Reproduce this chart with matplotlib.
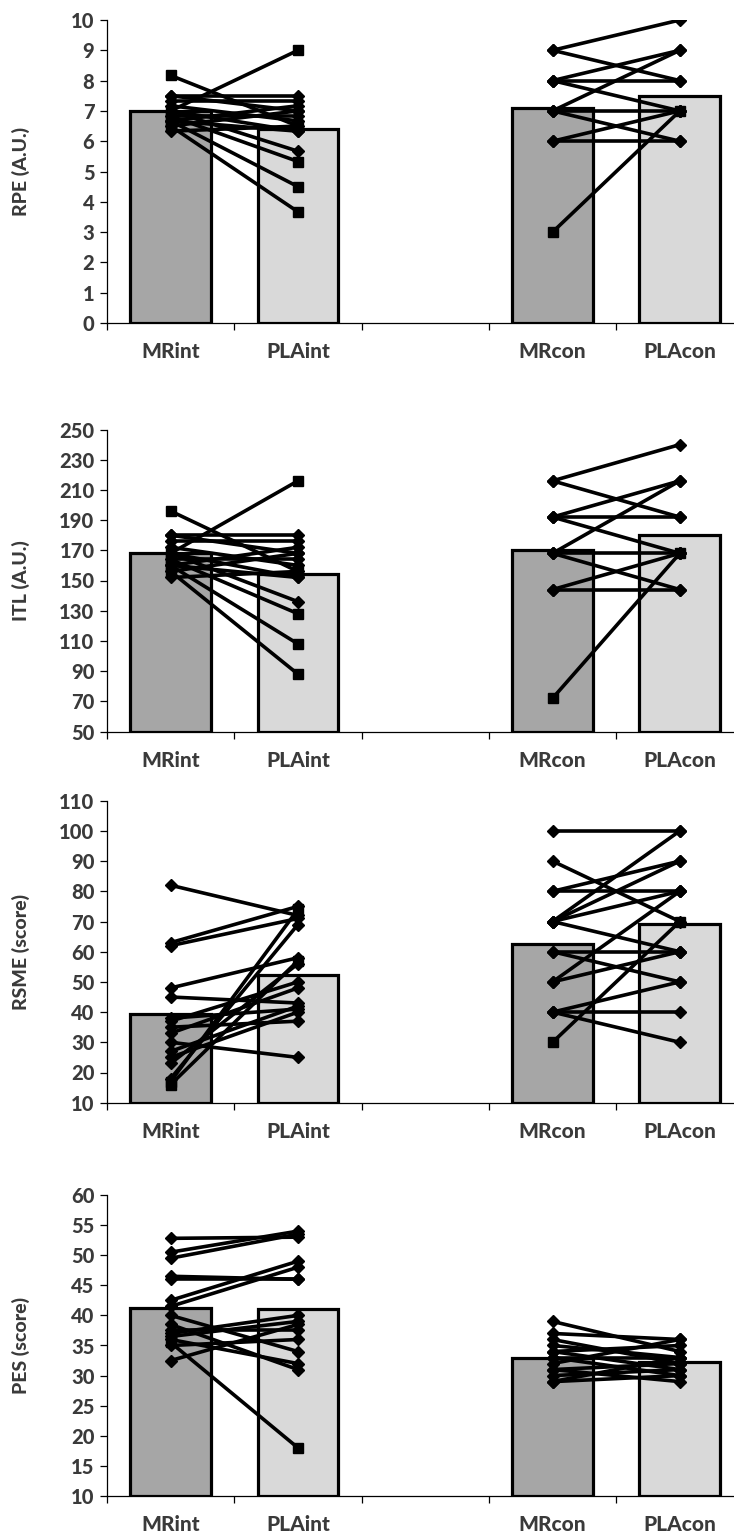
import matplotlib
matplotlib.use('Agg')
import matplotlib.pyplot as plt
import numpy as np

# ---------------- data ----------------
categories = ['MRint', 'PLAint', '', 'MRcon', 'PLAcon']

# RPE (A.U.)
rpe_int_mr = [7.00, 8.17, 6.50, 6.67, 6.83, 7.00, 7.50, 7.33, 6.50, 7.17, 6.67, 6.33, 6.83, 7.00, 6.67, 7.50]
rpe_int_pla = [9.00, 6.50, 3.67, 4.50, 5.33, 5.67, 7.50, 7.33, 7.00, 6.67, 7.17, 6.50, 6.83, 6.33, 6.33, 7.00]
rpe_con_mr = [9, 9, 8, 8, 8, 7, 7, 7, 6, 6, 3]
rpe_con_pla = [10, 8, 9, 8, 7, 9, 7, 6, 7, 6, 7]
rpe_means = [7.0, 6.4, 7.08, 7.5]

# ITL (A.U.)
itl_int_mr = [168, 196, 156, 160, 164, 168, 180, 176, 156, 172, 160, 152, 164, 168, 160, 180]
itl_int_pla = [216, 156, 88, 108, 128, 136, 180, 176, 168, 160, 172, 156, 164, 152, 152, 168]
itl_con_mr = [216, 216, 192, 192, 192, 168, 168, 168, 144, 144, 72]
itl_con_pla = [240, 192, 216, 192, 168, 216, 168, 144, 168, 144, 168]
itl_means = [168, 154, 170, 180]

# RSME (score)
rsme_int_mr = [82, 63, 62, 48, 45, 38, 37, 35, 33, 30, 27, 25, 23, 18, 17, 16]
rsme_int_pla = [72, 75, 71, 58, 43, 41, 50, 37, 48, 25, 42, 40, 56, 69, 74, 57]
rsme_con_mr = [100, 90, 80, 80, 70, 70, 70, 70, 60, 60, 50, 50, 40, 40, 40, 30]
rsme_con_pla = [100, 70, 90, 80, 100, 90, 60, 80, 60, 50, 80, 60, 50, 40, 30, 70]
rsme_means = [39.3, 52.4, 62.5, 69.3]

# PES (score)
pes_int_mr = [52.8, 50.5, 49.5, 46.5, 46.0, 42.5, 41.5, 40.0, 38.5, 37.5, 37.0, 36.5, 36.0, 35.5, 35.0, 32.5]
pes_int_pla = [53.0, 54.0, 53.5, 46.0, 46.0, 49.0, 48.0, 34.0, 31.0, 37.5, 40.0, 39.0, 32.0, 18.0, 36.0, 38.5]
pes_con_mr = [39, 37, 36, 35, 34, 34, 33, 33, 32, 31, 31, 30, 29, 29]
pes_con_pla = [34, 36, 32, 33, 31, 35, 30, 33, 36, 32, 29, 31, 33, 30]
pes_means = [41.2, 41.1, 32.9, 32.3]

panels = [
    dict(label='RPE (A.U.)', ylim=(0, 10), step=1, means=rpe_means,
         int_mr=rpe_int_mr, int_pla=rpe_int_pla, con_mr=rpe_con_mr, con_pla=rpe_con_pla,
         sq_int=[0, 1, 2, 3, 4], sq_con=[10]),
    dict(label='ITL (A.U.)', ylim=(50, 250), step=20, means=itl_means,
         int_mr=itl_int_mr, int_pla=itl_int_pla, con_mr=itl_con_mr, con_pla=itl_con_pla,
         sq_int=[0, 1, 2, 3, 4], sq_con=[10]),
    dict(label='RSME (score)', ylim=(10, 110), step=10, means=rsme_means,
         int_mr=rsme_int_mr, int_pla=rsme_int_pla, con_mr=rsme_con_mr, con_pla=rsme_con_pla,
         sq_int=[14, 15], sq_con=[15]),
    dict(label='PES (score)', ylim=(10, 60), step=5, means=pes_means,
         int_mr=pes_int_mr, int_pla=pes_int_pla, con_mr=pes_con_mr, con_pla=pes_con_pla,
         sq_int=[13], sq_con=[]),
]

# ---------------- layout / style ----------------
W, H = 734, 1539
fig = plt.figure(figsize=(W / 100, H / 100), dpi=100)
plt.rcParams['font.family'] = ['Lato', 'DejaVu Sans']
txt_color = '#3a3a3a'
txt_weight = 'black'

ax_left_px = 107
cat_w_px = 127.3
panel_px = [(20, 323), (429.5, 731.5), (800.7, 1102.7), (1195, 1496)]

xpos = np.arange(len(categories)) + 0.5
bar_idx = [0, 1, 3, 4]
bar_colors = ['#a6a6a6', '#d9d9d9', '#a6a6a6', '#d9d9d9']

for p, (top, bot) in zip(panels, panel_px):
    ax = fig.add_axes([ax_left_px / W, 1 - bot / H, len(categories) * cat_w_px / W, (bot - top) / H])
    ymin, ymax = p['ylim']
    ax.set_xlim(0, len(categories))
    ax.set_ylim(ymin, ymax)

    ax.bar(xpos[bar_idx], np.array(p['means']) - ymin, bottom=ymin, width=0.635,
           color=bar_colors, edgecolor='black', linewidth=2.3, zorder=2)

    for (mr, pla, sq, i0, i1) in [(p['int_mr'], p['int_pla'], p['sq_int'], 0, 1),
                                   (p['con_mr'], p['con_pla'], p['sq_con'], 3, 4)]:
        for k, (a, b) in enumerate(zip(mr, pla)):
            mk = 's' if k in sq else 'D'
            ms = 6.8 if mk == 's' else 6.6
            ax.plot([xpos[i0], xpos[i1]], [a, b], color='black', lw=2.6,
                    marker=mk, ms=ms, mfc='black', mec='black', mew=1.0, zorder=3)

    # spines
    for s in ['top', 'right']:
        ax.spines[s].set_visible(False)
    for s in ['left', 'bottom']:
        ax.spines[s].set_color('#000000')
        ax.spines[s].set_linewidth(0.9)

    # y ticks
    ax.set_yticks(np.arange(ymin, ymax + 0.001, p['step']))
    ax.tick_params(axis='y', direction='out', length=5, width=0.9, color='black',
                   labelsize=14.5, labelcolor=txt_color, pad=4)
    for lab in ax.get_yticklabels():
        lab.set_fontweight(txt_weight)

    # x ticks: boundaries as major ticks, names as minor labels
    ax.set_xticks(np.arange(len(categories) + 1))
    ax.set_xticklabels([])
    ax.set_xticks(xpos, minor=True)
    ax.set_xticklabels(categories, minor=True, fontweight=txt_weight, color=txt_color, fontsize=15)
    ax.tick_params(axis='x', which='major', direction='out', length=5, width=0.9, color='black')
    ax.tick_params(axis='x', which='minor', length=0, pad=14)

    ax.set_ylabel(p['label'], fontsize=14, fontweight=txt_weight, color=txt_color)
    ax.yaxis.set_label_coords(-0.121, 0.5)

fig.savefig('out.png', dpi=100)
